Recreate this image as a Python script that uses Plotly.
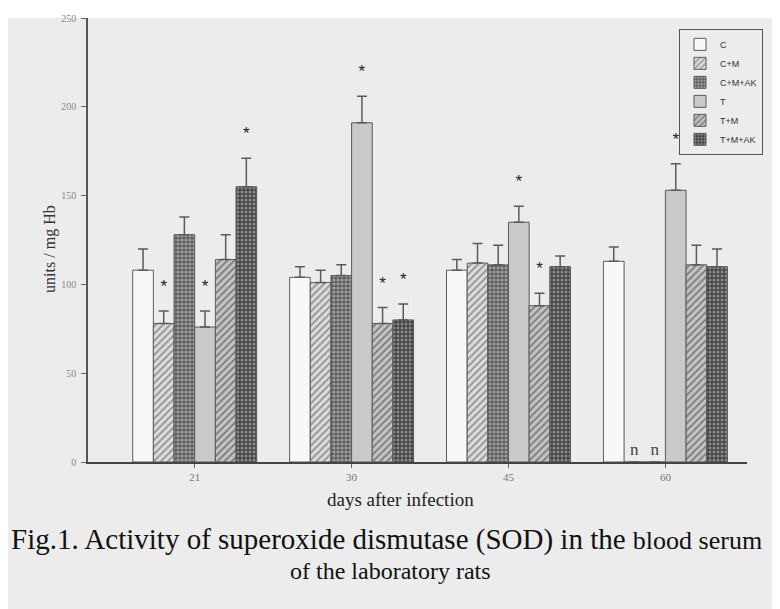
import plotly.graph_objects as go

# ---------------- data ----------------
days = ["21", "30", "45", "60"]
series = ["C", "C+M", "C+M+AK", "T", "T+M", "T+M+AK"]

val_C = [108, 104, 108, 113]
val_CM = [78, 101, 112, None]      # None = not determined ("n")
val_CMAK = [128, 105, 111, None]
val_T = [76, 191, 135, 153]
val_TM = [114, 78, 88, 111]
val_TMAK = [155, 80, 110, 110]

err_C = [12, 6, 6, 8]
err_CM = [7, 7, 11, None]
err_CMAK = [10, 6, 11, None]
err_T = [9, 15, 9, 15]
err_TM = [14, 9, 7, 11]
err_TMAK = [16, 9, 6, 10]

sig_C = [0, 0, 0, 0]
sig_CM = [1, 0, 0, 0]
sig_CMAK = [0, 0, 0, 0]
sig_T = [1, 1, 1, 1]
sig_TM = [0, 1, 1, 0]
sig_TMAK = [1, 1, 0, 0]

y_ticks = [0, 50, 100, 150, 200, 250]

values = [val_C, val_CM, val_CMAK, val_T, val_TM, val_TMAK]
errors = [err_C, err_CM, err_CMAK, err_T, err_TM, err_TMAK]
sigs = [sig_C, sig_CM, sig_CMAK, sig_T, sig_TM, sig_TMAK]

# ---------------- styles ----------------
styles = [
    dict(color="#f8f8f8"),
    dict(color="#dcdcdc", pattern=dict(shape="/", bgcolor="#dcdcdc", fgcolor="#4a4a4a", size=5, solidity=0.35)),
    dict(color="#6a6a6a", pattern=dict(shape=".", bgcolor="#5e5e5e", fgcolor="#dedede", size=4, solidity=0.5)),
    dict(color="#c9c9c9"),
    dict(color="#c4c4c4", pattern=dict(shape="/", bgcolor="#c4c4c4", fgcolor="#3a3a3a", size=5, solidity=0.4)),
    dict(color="#4a4a4a", pattern=dict(shape=".", bgcolor="#444444", fgcolor="#cfcfcf", size=4, solidity=0.45)),
]

SERIF = "Liberation Serif"
BG = "#ececec"
x_pos = list(range(len(days)))

fig = go.Figure()
for name, vals, errs, st in zip(series, values, errors, styles):
    yv = [v if v is not None else 0 for v in vals]
    txt = ["" if v is not None else "n" for v in vals]
    fig.add_trace(go.Bar(
        name=name, x=x_pos, y=yv,
        text=txt, textposition="outside", cliponaxis=False,
        textfont=dict(family=SERIF, size=17, color="#444444"),
        marker=dict(line=dict(color="#5a5a5a", width=1), **st),
        error_y=dict(type="data", symmetric=False, array=errs,
                     arrayminus=[0] * len(errs), color="#5a5a5a",
                     thickness=1.5, width=5),
    ))

# significance asterisks, aligned with the bars
for name, vals, errs, sg in zip(series, values, errors, sigs):
    ys, ts = [], []
    for v, e, s in zip(vals, errs, sg):
        if v is None:
            ys.append(None); ts.append("")
        else:
            ys.append(v + e + 13); ts.append("*" if s else "")
    fig.add_trace(go.Scatter(
        x=x_pos, y=ys, text=ts, mode="text", showlegend=False,
        textfont=dict(family="Liberation Sans", size=17, color="#222222"),
        textposition="middle center", cliponaxis=False, hoverinfo="skip",
    ))

# page is offset by the 8px body margin of the html page
OFF = 8
W, H = 780 - OFF, 609 - OFF
L, R, T, B = 80, 33, 4, 147
pw, ph = W - L - R, H - T - B


def px(xp):
    """page x pixel -> paper coordinate"""
    return (xp - OFF - L) / pw


def py(yp):
    """page y pixel -> paper coordinate"""
    return (H - B - (yp - OFF)) / ph


fig.update_layout(
    width=W, height=H,
    margin=dict(l=L, r=R, t=T, b=B, pad=0),
    paper_bgcolor=BG, plot_bgcolor=BG,
    barmode="group", bargap=0.21, bargroupgap=0,
    scattermode="group", scattergap=0.21,
    showlegend=True,
    legend=dict(x=px(679), y=py(23), xanchor="left", yanchor="top",
                bgcolor="rgba(0,0,0,0)", bordercolor="#555555", borderwidth=1,
                font=dict(family="Liberation Sans", size=9, color="#333333"),
                itemwidth=30, tracegroupgap=0, traceorder="normal"),
    xaxis=dict(range=[-0.68, 3.52], tickvals=x_pos, ticktext=days,
               showgrid=False, zeroline=False,
               showline=True, linecolor="#444444", linewidth=2,
               ticks="outside", ticklen=4, tickcolor="#666666",
               tickfont=dict(family=SERIF, size=11, color="#777777"),
               ticklabelstandoff=0),
    yaxis=dict(range=[0, 250], tickvals=y_ticks,
               showgrid=False, zeroline=False,
               showline=True, linecolor="#555555", linewidth=1.5,
               ticks="outside", ticklen=5, tickcolor="#666666",
               tickfont=dict(family=SERIF, size=10, color="#888888"),
               ticklabelstandoff=3, ticklabeloverflow="allow"),
    font=dict(family=SERIF),
)

annotations = [
    dict(text="units / mg Hb", textangle=-90, x=px(50), y=py(246),
         font=dict(family=SERIF, size=16, color="#333333")),
    dict(text="days after infection", x=px(400), y=py(500),
         font=dict(family=SERIF, size=19, color="#222222")),
    dict(text='Fig.1. Activity of superoxide dismutase (SOD) in the '
              '<span style="font-size:26px">blood serum</span>',
         x=px(9), y=py(541), xanchor="left",
         font=dict(family=SERIF, size=29, color="#111111")),
    dict(text="of the laboratory rats", x=px(390), y=py(572),
         font=dict(family=SERIF, size=24, color="#111111")),
]
for a in annotations:
    a.update(xref="paper", yref="paper", showarrow=False)
    a.setdefault("xanchor", "center")
    a["yanchor"] = "middle"
fig.update_layout(annotations=annotations)

# white strip of the page above the scanned figure
fig.add_shape(type="rect", xref="paper", yref="paper", x0=px(0), x1=px(800),
              y0=py(12), y1=py(0), fillcolor="white", line_width=0, layer="below")

fig.write_html("out.html")
